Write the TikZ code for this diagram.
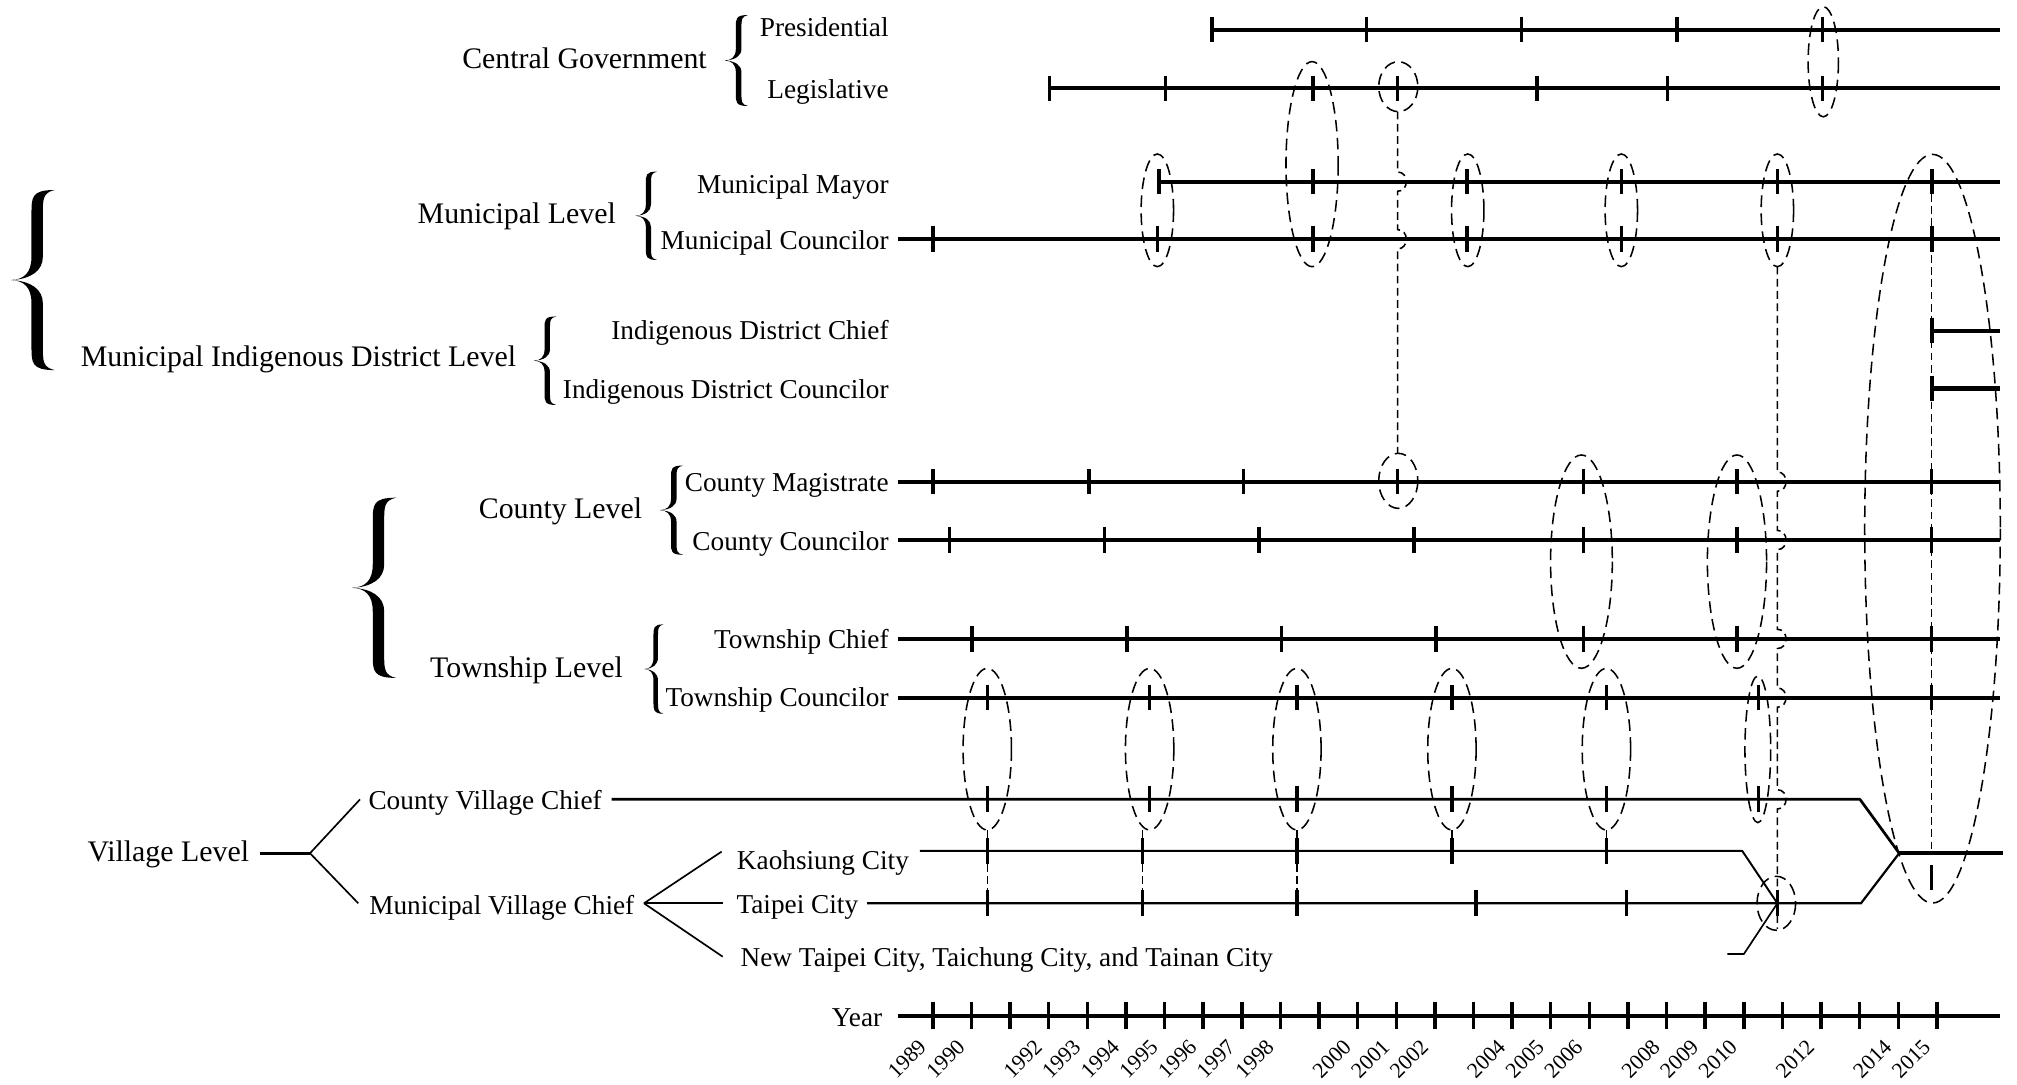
\documentclass[tikz,border=0pt]{standalone}
\usepackage{fontspec}
\setmainfont{Liberation Serif}
\newcommand{\bigfont}{\fontsize{23.2pt}{28pt}\selectfont}
\newcommand{\smfont}{\fontsize{21.2pt}{26pt}\selectfont}
\newcommand{\yrfont}{\fontsize{17pt}{20pt}\selectfont}
% calligraphic left brace: cusp x, top y, width, height, half-thickness (fraction of width)
\newcommand{\brc}[5]{%
 \begin{scope}[shift={(#1,#2)},xscale=#3,yscale=#4]
 \fill (1,0) .. controls (0.6-#5,0) and (0.6-#5,0.04) .. (0.6-#5,0.13) -- (0.6-#5,0.37)
   .. controls (0.6-#5,0.46) and (0.3,0.497) .. (0,0.5)
   .. controls (0.3,0.503) and (0.6-#5,0.54) .. (0.6-#5,0.63) -- (0.6-#5,0.87)
   .. controls (0.6-#5,0.96) and (0.6-#5,1) .. (1,1)
   .. controls (0.6+#5,0.985) and (0.6+#5,0.95) .. (0.6+#5,0.87) -- (0.6+#5,0.63)
   .. controls (0.6+#5,0.55) and (0.45,0.505) .. (0,0.5)
   .. controls (0.45,0.495) and (0.6+#5,0.45) .. (0.6+#5,0.37) -- (0.6+#5,0.13)
   .. controls (0.6+#5,0.05) and (0.6+#5,0.015) .. (1,0) -- cycle;
 \end{scope}}
\tikzset{
  tline/.style={line width=3.2pt},
  tk/.style={line width=2.7pt},
  ell/.style={line width=1.2pt, dash pattern=on 9pt off 5pt},
  conn/.style={line width=1.2pt, dash pattern=on 6pt off 3.5pt},
  biglab/.style={font=\bigfont, inner sep=0pt, anchor=base east},
  lab/.style={font=\smfont, inner sep=0pt, anchor=base east},
  labw/.style={font=\smfont, inner sep=0pt, anchor=base west},
  yr/.style={font=\yrfont, inner sep=0pt, rotate=45, anchor=east},
  thinl/.style={line width=1.3pt},
}
\begin{document}
\begin{tikzpicture}[x=1pt,y=-1pt]
\useasboundingbox (0,0) rectangle (1568,843);

% ---------- labels ----------
\node[biglab] (cg) at (549.6,53.1) {Central Government};
\node[biglab] (ml) at (478.9,173.6) {Municipal Level};
\node[biglab] (midl) at (401.4,285) {Municipal Indigenous District Level};
\node[biglab] (cl) at (499.4,403) {County Level};
\node[biglab] (twl) at (484.4,526.5) {Township Level};
\node[biglab] (vl) at (193.8,669.5) {Village Level};

\node[lab] (pres) at (691,28.5) {Presidential};
\node[lab] (leg) at (691,76.4) {Legislative};
\node[lab] (mm) at (691,150.3) {Municipal Mayor};
\node[lab] (mc) at (691,194.3) {Municipal Councilor};
\node[lab] (idc) at (691,264.3) {Indigenous District Chief};
\node[lab] (idco) at (691,309.6) {Indigenous District Councilor};
\node[lab] (cm) at (691,382.2) {County Magistrate};
\node[lab] (cc) at (691,427.6) {County Councilor};
\node[lab] (tc) at (691,504.5) {Township Chief};
\node[lab] (tco) at (691,549.5) {Township Councilor};
\node[lab] (yrl) at (686,797.6) {Year};

\node[labw] (cvc) at (286.3,629.2) {County Village Chief};
\node[labw] (mvc) at (286.9,711.3) {Municipal Village Chief};
\node[labw] (kc) at (572.7,676.3) {Kaohsiung City};
\node[labw] (tpc) at (572.4,710) {Taipei City};
\node[labw] (ntc) at (575.6,751.5) {New Taipei City, Taichung City, and Tainan City};

% ---------- braces ----------
\brc{8.5}{147.7}{34}{140}{0.13}
\brc{273.7}{386.9}{34.2}{140.1}{0.13}
\brc{563.3}{11.7}{18.2}{70.7}{0.12}
\brc{494}{133.4}{16.8}{68.7}{0.12}
\brc{415}{246}{17.4}{68.8}{0.12}
\brc{513}{361.9}{18}{69.4}{0.12}
\brc{501}{485.4}{14.6}{69.4}{0.12}

% ---------- main timelines ----------
\draw[tline] (942.2,23) -- (1555,23);
\foreach \x in {942.2,1062.3,1182.9,1303.5,1416.8} \draw[tk] (\x,13) -- (\x,33);
\draw[tline] (816,68.7) -- (1555,68.7);
\foreach \x in {816,906.2,1020.6,1086.5,1194.8,1296.2,1416.8} \draw[tk] (\x,58.7) -- (\x,78.7);
\draw[tline] (901,141.2) -- (1555,141.2);
\foreach \x in {901,1020.6,1140.6,1260.7,1381.9,1501.9} \draw[tk] (\x,131.2) -- (\x,151.2);
\draw[tline] (698,186) -- (1555,186);
\foreach \x in {725.2,900,1020.6,1140.6,1260.7,1381.9,1501.9} \draw[tk] (\x,176) -- (\x,196);
\draw[tline] (1501.9,257) -- (1555,257);
\draw[tk] (1501.9,247) -- (1501.9,267);
\draw[tline] (1501.9,302) -- (1555,302);
\draw[tk] (1501.9,292) -- (1501.9,312);
\draw[tline] (698,374.4) -- (1555,374.4);
\foreach \x in {725.2,846.4,966.5,1086.5,1230.8,1350.3,1501.6} \draw[tk] (\x,364.4) -- (\x,384.4);
\draw[tline] (698,419.8) -- (1555,419.8);
\foreach \x in {738.2,858.8,978.9,1099.4,1230.8,1350.3,1501.6} \draw[tk] (\x,409.8) -- (\x,429.8);
\draw[tline] (698,496.7) -- (1555,496.7);
\foreach \x in {755.7,876.2,996.3,1116.4,1230.8,1350.3,1501.6} \draw[tk] (\x,486.7) -- (\x,506.7);
\draw[tline] (698,542.3) -- (1555,542.3);
\foreach \x in {767.5,893.7,1008.2,1128.7,1248.8,1367,1501.6} \draw[tk] (\x,532.3) -- (\x,552.3);

% ---------- village tree ----------
\coordinate (vj) at (241,663.3);
\coordinate (mj) at (500.6,702.2);
\draw[line width=2.2pt] (202,663.3) -- (vj);
\draw[thinl] (vj) -- (279.9,621.4);
\draw[thinl] (vj) -- (278.5,702.2);
\draw[thinl] (mj) -- (561,662);
\draw[thinl] (mj) -- (561.8,702.2);
\draw[thinl] (mj) -- (561.8,743.7);

% village timelines
\coordinate (merge) at (1476.4,663.3);
\coordinate (tp10) at (1381.7,702.2);
\draw[line width=2.1pt,line join=round] (475.5,621.4) -- (1445.9,621.4) -- (merge);
\foreach \x in {767.5,893.7,1008.2,1128.7,1248.8,1367} \draw[tk] (\x,611.4) -- (\x,631.4);
\draw[line width=1.5pt,line join=round] (715,661.5) -- (1354.4,661.5) -- (tp10);
\foreach \x in {767.5,888.1,1008.2,1128.7,1248.8} \draw[tk] (\x,651.5) -- (\x,671.5);
\draw[line width=1.7pt,line join=round] (674,702.2) -- (1446.7,702.2) -- (merge);
\foreach \x in {767.5,888.1,1008.2,1147.4,1264.6,1381.9} \draw[tk] (\x,692.2) -- (\x,712.2);
\draw[line width=1.3pt,line join=round] (1342.8,741.6) -- (1355.7,741.6) -- (tp10);
\draw[line width=3.3pt] (merge) -- (1557.3,663.3);
\draw[tk] (1501.6,672.4) -- (1501.6,692);

% ---------- year axis ----------
\draw[line width=3.2pt] (698.2,789.8) -- (1554.8,789.8);
\foreach \i in {0,...,26} \draw[tk] ({725.2+30.02*\i},779.3) -- ({725.2+30.02*\i},800.3);
\foreach \yy in {1989,1990,1992,1993,1994,1995,1996,1997,1998,2000,2001,2002,2004,2005,2006,2008,2009,2010,2012,2014,2015}
  \node[yr] (y\yy) at ({725.2+30.02*(\yy-1989)-8},811) {\yy};

% ---------- dashed ellipses ----------
\draw[ell] (1417.4,48) ellipse [x radius=11.8, y radius=42.8];
\draw[ell] (1087,67.4) ellipse [x radius=15.2, y radius=19.4];
\draw[ell] (1020,127.6) ellipse [x radius=20.3, y radius=79.7];
\foreach \x in {899.7,1141,1260.4,1381.7} \draw[ell] (\x,163.5) ellipse [x radius=12.6, y radius=43.8];
\draw[ell] (1502.3,411) ellipse [x radius=52.7, y radius=291];
\draw[ell] (1087,373.8) ellipse [x radius=15.2, y radius=21.4];
\draw[ell] (1229.4,436.6) ellipse [x radius=24, y radius=82.9];
\draw[ell] (1350.3,436.6) ellipse [x radius=23, y radius=82.9];
\foreach \x in {767.5,893.7,1008.2,1128.7,1248.8} \draw[ell] (\x,582.4) ellipse [x radius=18.8, y radius=62.8];
\draw[ell] (1366.5,582.5) ellipse [x radius=10, y radius=57];
\draw[ell] (1380.9,702.2) ellipse [x radius=15, y radius=21];

% ---------- dashed connectors with hops ----------
\draw[conn] (1086.5,86.8) -- (1086.5,133.7)
  .. controls (1095.5,133.7) and (1095.5,148.7) .. (1086.5,148.7) -- (1086.5,178.5)
  .. controls (1095.5,178.5) and (1095.5,193.5) .. (1086.5,193.5) -- (1086.5,352.4);
\draw[conn] (1381.7,207.3) -- (1381.7,366.9)
  .. controls (1390.7,366.9) and (1390.7,381.9) .. (1381.7,381.9) -- (1381.7,412.3)
  .. controls (1390.7,412.3) and (1390.7,427.3) .. (1381.7,427.3) -- (1381.7,489.2)
  .. controls (1390.7,489.2) and (1390.7,504.2) .. (1381.7,504.2) -- (1381.7,534.8)
  .. controls (1390.7,534.8) and (1390.7,549.8) .. (1381.7,549.8) -- (1381.7,613.9)
  .. controls (1390.7,613.9) and (1390.7,628.9) .. (1381.7,628.9) -- (1381.7,722);
\draw[conn] (1501.6,141.2) -- (1501.6,663.3);
\foreach \x in {767.5,888.1,1008.2,1128.7,1248.8} \draw[conn] (\x,645.2) -- (\x,651.5);
\foreach \x in {767.5,888.1,1008.2} \draw[conn] (\x,671.5) -- (\x,692.2);
\end{tikzpicture}
\end{document}
